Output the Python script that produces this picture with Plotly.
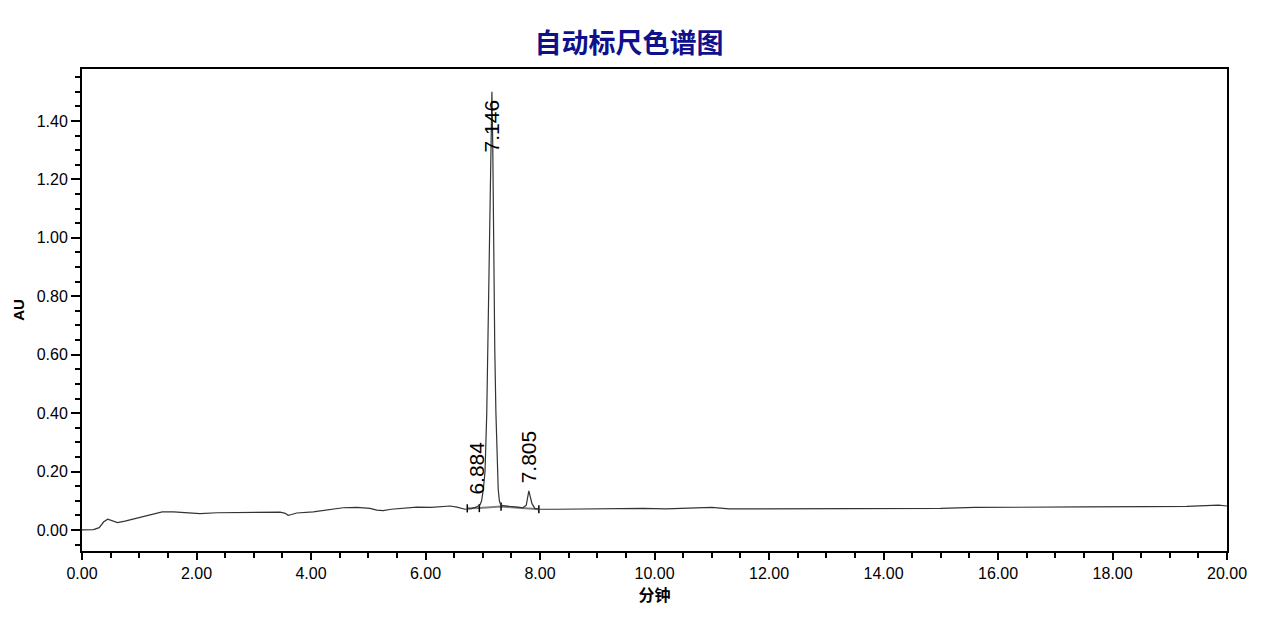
import plotly.graph_objects as go

# Chromatogram trace (minutes, AU)
time_min = [0.00, 0.20, 0.30, 0.38, 0.45, 0.52, 0.62, 0.75, 1.00, 1.20, 1.40, 1.60, 1.80, 2.06,
            2.36, 2.80, 3.20, 3.46, 3.55, 3.60, 3.66, 3.75, 4.04, 4.30, 4.56, 4.80, 5.03, 5.15,
            5.26, 5.40, 5.55, 5.85, 6.10, 6.43, 6.55, 6.69, 6.80, 6.884, 6.95, 6.98, 7.01, 7.04,
            7.07, 7.09, 7.11, 7.13, 7.145, 7.16, 7.175, 7.19, 7.21, 7.23, 7.25, 7.27, 7.29, 7.31,
            7.35, 7.45, 7.60, 7.70, 7.76, 7.805, 7.86, 7.91, 8.00, 8.30, 8.70, 9.05, 9.50, 9.80,
            10.20, 10.60, 11.00, 11.30, 12.00, 13.00, 14.30, 15.00, 15.60, 16.50, 17.50, 18.60,
            19.30, 19.85, 20.00]
absorbance = [0.000, 0.001, 0.008, 0.028, 0.037, 0.033, 0.025, 0.030, 0.043, 0.054, 0.062, 0.062,
              0.059, 0.056, 0.059, 0.060, 0.061, 0.061, 0.057, 0.050, 0.053, 0.058, 0.062, 0.068,
              0.076, 0.077, 0.074, 0.068, 0.066, 0.071, 0.074, 0.078, 0.077, 0.082, 0.078, 0.071,
              0.073, 0.078, 0.085, 0.100, 0.140, 0.200, 0.400, 0.620, 0.860, 1.100, 1.310, 1.500,
              1.310, 0.860, 0.620, 0.400, 0.220, 0.140, 0.100, 0.088, 0.083, 0.080, 0.078, 0.076,
              0.085, 0.134, 0.090, 0.074, 0.071, 0.071, 0.072, 0.072, 0.073, 0.074, 0.072, 0.074,
              0.077, 0.072, 0.072, 0.073, 0.074, 0.074, 0.077, 0.077, 0.079, 0.080, 0.081, 0.085,
              0.082]

# Peak retention times and label base heights
peak_rt = [6.884, 7.146, 7.805]
peak_label_y = [0.113, 1.284, 0.154]

# Integration marks (peak start / end)
mark_t = [6.73, 6.94, 7.32, 7.98]
mark_au = [0.074, 0.075, 0.080, 0.071]
mark_half = 0.014

x_ticks = [0, 2, 4, 6, 8, 10, 12, 14, 16, 18, 20]
y_ticks = [0.0, 0.2, 0.4, 0.6, 0.8, 1.0, 1.2, 1.4]

fig = go.Figure()

# integration baseline
fig.add_trace(go.Scatter(x=mark_t, y=mark_au, mode="lines",
                         line=dict(color="#808080", width=2), hoverinfo="skip", showlegend=False))

# tick marks at peak boundaries
mx, my = [], []
for t, a in zip(mark_t, mark_au):
    mx += [t, t, None]
    my += [a - mark_half, a + mark_half, None]
fig.add_trace(go.Scatter(x=mx, y=my, mode="lines",
                         line=dict(color="black", width=1.5), hoverinfo="skip", showlegend=False))

fig.add_trace(go.Scatter(x=time_min, y=absorbance, mode="lines",
                         line=dict(color="#333333", width=1.2), showlegend=False))

for rt, ly in zip(peak_rt, peak_label_y):
    fig.add_annotation(x=rt, y=ly, text=f"{rt:.3f}", textangle=-90, showarrow=False,
                       xanchor="center", yanchor="bottom",
                       font=dict(family="Liberation Sans, Arial", size=21, color="black"))

axis_common = dict(showline=True, linecolor="black", linewidth=2, mirror=True,
                   ticks="outside", tickcolor="black", tickwidth=2, showgrid=False, zeroline=False,
                   automargin=False,
                   tickfont=dict(family="Liberation Sans, Arial", size=16, color="black"))

fig.update_xaxes(range=[0, 20], tickvals=x_ticks, ticktext=[f"{v:.2f}" for v in x_ticks],
                 ticklen=7,
                 minor=dict(dtick=0.5, ticks="outside", ticklen=5, tickwidth=1.5, tickcolor="black"),
                 title=dict(text="<b>分钟</b>", standoff=6,
                            font=dict(family="Noto Sans CJK SC", size=16, color="black")),
                 **axis_common)
fig.update_yaxes(range=[-0.072, 1.578], tickvals=y_ticks, ticktext=[f"{v:.2f}" for v in y_ticks],
                 ticklen=9,
                 minor=dict(dtick=0.05, tick0=0, ticks="outside", ticklen=5, tickwidth=2, tickcolor="black"),
                 title=dict(text="<b>AU</b>", standoff=8,
                            font=dict(family="Liberation Sans, Arial", size=15, color="black")),
                 **axis_common)

W, H = 1276, 611
fig.update_layout(
    width=W, height=H,
    margin=dict(l=74, r=57, t=61, b=68),
    paper_bgcolor="white", plot_bgcolor="white",
    title=dict(text="<b>自动标尺色谱图</b>", x=621 / W, xanchor="center",
               y=1 - 36 / H, yanchor="middle", yref="container",
               font=dict(family="Noto Sans CJK SC", size=27, color="#10108c")),
)

fig.write_html("out.html")
